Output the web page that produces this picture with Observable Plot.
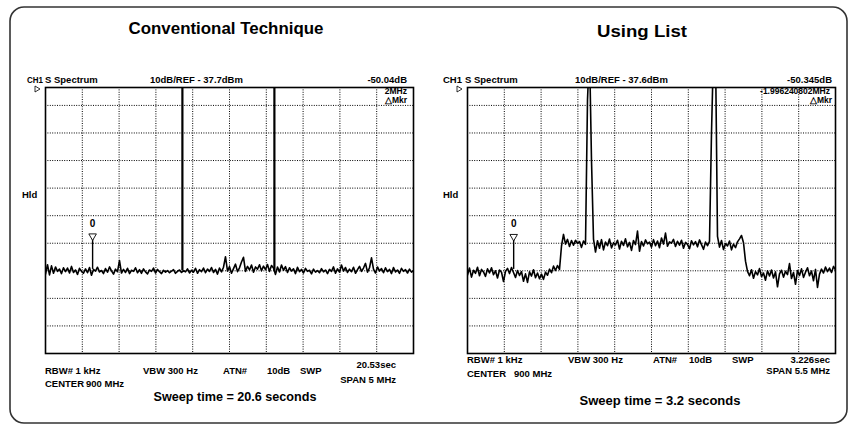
<!DOCTYPE html>
<html><head><meta charset="utf-8">
<script src="https://cdn.jsdelivr.net/npm/d3@7"></script>
<script src="https://cdn.jsdelivr.net/npm/@observablehq/plot@0.6"></script>
<style>
body{margin:0;background:#fff;}
#wrap{position:relative;width:849px;height:424px;overflow:hidden;font-family:"Liberation Sans",Arial,sans-serif;}
#wrap > svg{position:absolute;top:0;}
</style></head><body><div id="wrap"></div>
<script>
// ---- data (levels in dB relative to reference, frequencies in MHz) ----
const leftSpan = [897.5, 902.5];        // CENTER 900 MHz, SPAN 5 MHz
const rightSpan = [897.25, 902.75];     // CENTER 900 MHz, SPAN 5.5 MHz
const gridLevels = [-90, -80, -70, -60, -50, -40, -30, -20, -10];

const leftLevels = [
-71.2,-67.8,-71.5,-68.2,-70.9,-68.6,-70.2,-69.4,-71.0,-68.9,
-70.3,-69.0,-70.8,-68.4,-70.6,-69.7,-71.3,-69.1,-70.2,-70.9,
-69.3,-70.7,-68.8,-71.6,-69.5,-70.1,-68.7,-70.4,-69.9,-71.0,
-69.2,-70.5,-68.6,-70.0,-71.2,-69.4,-70.3,-66.3,-70.8,-69.5,
-70.6,-69.1,-71.0,-69.8,-70.2,-68.9,-70.7,-69.6,-70.9,-69.3,
-70.4,-71.1,-69.7,-70.2,-69.0,-70.8,-69.5,-70.3,-71.0,-69.8,
-70.5,-69.9,-70.7,-70.1,-69.6,-70.9,-70.2,-69.7,-70.6,-70.0,
-70.4,-69.3,-70.8,-69.8,-70.5,-69.1,-70.9,-69.6,-70.3,-69.0,
-70.7,-69.4,-70.2,-68.8,-70.6,-69.5,-71.2,-69.0,-70.4,-68.7,
-64.9,-70.1,-68.5,-70.9,-69.2,-67.6,-70.3,-68.9,-66.8,-65.1,
-70.2,-68.4,-69.7,-67.9,-70.5,-68.6,-69.4,-67.8,-70.0,-68.3,
-69.6,-67.7,-70.2,-68.1,-69.0,-71.3,-68.6,-70.4,-67.9,-69.8,
-68.5,-70.6,-68.9,-70.1,-69.3,-71.0,-68.7,-70.3,-69.5,-70.8,
-69.1,-70.2,-69.8,-71.1,-69.4,-70.5,-69.9,-70.7,-69.2,-70.4,
-69.7,-71.0,-69.5,-70.2,-68.6,-70.9,-69.3,-70.5,-67.9,-70.1,
-68.8,-70.6,-69.4,-70.3,-68.7,-70.9,-69.6,-68.4,-70.2,-69.0,
-67.3,-70.5,-68.9,-65.3,-69.4,-70.8,-68.6,-70.1,-69.2,-70.7,
-68.9,-70.3,-69.5,-71.0,-68.8,-70.4,-69.7,-70.9,-69.1,-70.2,
-69.6,-70.8,-69.4,-70.5,-69.9
];
const leftCarriers = [899.36, 900.61];
const leftCarrierBase = -70;
const leftMarkerFreq = [898.14];
const leftMarkerTop = -57.4;

const rightLevels = [
-71.5,-69.0,-72.3,-69.8,-70.9,-68.7,-71.8,-69.5,-70.4,-72.0,
-69.3,-70.8,-68.9,-71.4,-70.0,-72.6,-69.7,-70.5,-73.9,-70.2,
-69.1,-71.0,-68.8,-70.6,-72.4,-69.9,-71.7,-70.3,-73.8,-71.1,
-74.2,-70.4,-71.9,-69.6,-72.5,-70.8,-72.9,-71.2,-73.1,-70.5,
-71.6,-69.4,-70.7,-68.3,-69.9,
-68.1,-69.5,-61.0,-56.8,
-60.3,-58.6,-61.2,-59.0,-60.7,-58.9,-60.1,-59.4,-61.5,-59.2,-60.4,
-8,10,-30,-58.5,
-63.2,-59.1,-61.8,-58.7,-62.4,-59.6,-60.9,-58.5,-61.7,-59.8,
-60.6,-58.9,-62.1,-59.3,-60.8,-58.4,-61.3,-59.7,-62.6,-59.0,
-60.5,-55.6,-62.9,-59.4,-61.0,-58.8,-60.2,-59.6,-61.4,-58.7,
-60.9,-59.2,-61.6,-58.1,-60.3,-56.3,-61.1,-59.5,-60.0,-58.6,
-61.2,-59.3,-60.7,-58.9,-61.8,-59.7,-60.4,-62.0,-59.1,-60.6,
-59.4,-61.3,-58.8,-60.5,-62.2,-59.6,-60.9,
-59.3,-20,10,10,-57.5,
-61.4,-59.0,-62.3,-60.1,-61.0,-59.2,-62.4,-60.3,-61.6,-59.5,
-58.4,-57.2,-59.8,
-66.5,-70.2,
-71.8,-69.6,-72.7,-70.3,-71.5,-69.2,-72.1,-70.8,-73.4,-70.0,
-71.9,-69.7,-72.6,-70.4,-75.8,-71.1,-69.8,-72.3,-70.2,-71.4,
-67.4,-72.8,-70.6,-74.9,-69.9,-71.7,-69.3,-72.4,-70.5,-68.9,
-71.8,-70.1,-73.6,-69.5,-76.0,-71.2,-69.4,-70.8,-68.6,-70.3,
-69.0,-70.6,-68.4,-69.7
];
const rightCarriers = [];
const rightCarrierBase = -60;
const rightMarkerFreq = [897.94];
const rightMarkerTop = -57.6;

// ---- drawing ----
const FONT = '"Liberation Sans", Arial, sans-serif';
function panel(span, levels, carriers, carrierBase, markerFreq, markerTop, left) {
  const n = levels.length;
  const trace = levels.map((v, i) => ({f: span[0] + i * (span[1] - span[0]) / (n - 1), v}));
  const xt = d3.range(1, 10).map(k => span[0] + k * (span[1] - span[0]) / 10);
  const svg = Plot.plot({
    width: 425, height: 424,
    marginLeft: left ? 45 : 43, marginRight: left ? 12 : 14,
    marginTop: 87, marginBottom: 71,
    style: {fontFamily: FONT, background: "transparent", overflow: "visible"},
    x: {domain: span, axis: null},
    y: {domain: [-100, -3.5], axis: null},
    marks: [
      Plot.gridX(xt, {stroke: "#000", strokeOpacity: 1, strokeWidth: 1, strokeDasharray: "1,1.4"}),
      Plot.gridY(gridLevels, {stroke: "#000", strokeOpacity: 1, strokeWidth: 1, strokeDasharray: "1,1.4"}),
      Plot.line(trace, {x: "f", y: "v", stroke: "#000", strokeWidth: 1.6, clip: true}),
      Plot.ruleX(carriers, {y1: carrierBase, y2: 0, stroke: "#000", strokeWidth: 2.2, clip: true}),
      Plot.ruleX(markerFreq, {y1: -69.5, y2: markerTop, stroke: "#000", strokeWidth: 1.4}),
      Plot.dot(markerFreq, {x: d => d, y: markerTop, symbol: "triangle", rotate: 180, r: 2.8, fill: "#fff", stroke: "#000", strokeWidth: 0.9}),
      Plot.text(markerFreq, {x: d => d, y: markerTop + 4.6, text: () => "0", fontWeight: "bold", fontSize: 10}),
      Plot.frame({stroke: "#000", strokeWidth: 1.6})
    ]
  });
  svg.style.left = (left ? 0 : 424) + "px";
  return svg;
}
const wrap = document.getElementById("wrap");
wrap.appendChild(panel(leftSpan, leftLevels, leftCarriers, leftCarrierBase, leftMarkerFreq, leftMarkerTop, true));
wrap.appendChild(panel(rightSpan, rightLevels, rightCarriers, rightCarrierBase, rightMarkerFreq, rightMarkerTop, false));

// ---- annotation overlay: [text, x, y, anchor, size, width (0 = natural)] ----
const labels = [
  ["Conventional Technique", 226, 34, "middle", 17, 195],
  ["Using List", 642, 37, "middle", 17, 90],
  ["CH1", 27, 83, "start", 9, 16], ["S Spectrum", 45, 83, "start", 9.5, 0],
  ["10dB/REF - 37.7dBm", 150, 83, "start", 9.5, 0], ["-50.04dB", 407, 83, "end", 9.5, 0],
  ["2MHz", 407, 93.5, "end", 8.5, 0], ["\u25B3Mkr", 407, 103, "end", 8.5, 0],
  ["Hld", 22, 198, "start", 9.5, 0],
  ["RBW# 1 kHz", 45, 374, "start", 9.5, 0], ["VBW 300 Hz", 143, 374, "start", 9.5, 0],
  ["ATN#", 223, 374, "start", 9.5, 0], ["10dB", 267, 374, "start", 9.5, 0], ["SWP", 300, 374, "start", 9.5, 0],
  ["20.53sec", 396, 368, "end", 9.5, 0], ["CENTER", 45, 387, "start", 9.5, 0], ["900 MHz", 86, 387, "start", 9.5, 0],
  ["SPAN 5 MHz", 396, 383, "end", 9.5, 0],
  ["Sweep time = 20.6 seconds", 235, 401, "middle", 13.5, 163],
  ["CH1", 443, 83, "start", 9.5, 0], ["S Spectrum", 465, 83, "start", 9.5, 0],
  ["10dB/REF - 37.6dBm", 575, 83, "start", 9.5, 0], ["-50.345dB", 832, 83, "end", 9.5, 0],
  ["-1.996240802MHz", 830, 93.5, "end", 8.5, 0], ["\u25B3Mkr", 832, 103, "end", 8.5, 0],
  ["Hld", 443, 198, "start", 9.5, 0],
  ["RBW# 1 kHz", 467, 363, "start", 9.5, 0], ["VBW 300 Hz", 568, 363, "start", 9.5, 0],
  ["ATN#", 653, 363, "start", 9.5, 0], ["10dB", 689, 363, "start", 9.5, 0], ["SWP", 732, 363, "start", 9.5, 0],
  ["3.226sec", 830, 363, "end", 9.5, 0], ["CENTER", 467, 377, "start", 9.5, 0], ["900 MHz", 514, 377, "start", 9.5, 0],
  ["SPAN 5.5 MHz", 830, 374, "end", 9.5, 0],
  ["Sweep time = 3.2 seconds", 660, 405, "middle", 13.5, 161]
];
const ns = "http://www.w3.org/2000/svg";
const ov = document.createElementNS(ns, "svg");
ov.setAttribute("width", 849); ov.setAttribute("height", 424);
ov.style.left = "0px";
const border = document.createElementNS(ns, "rect");
border.setAttribute("x", 10); border.setAttribute("y", 7);
border.setAttribute("width", 837); border.setAttribute("height", 416);
border.setAttribute("rx", 14);
border.setAttribute("fill", "none"); border.setAttribute("stroke", "#333"); border.setAttribute("stroke-width", 1.6);
ov.appendChild(border);
for (const [t, x, y, a, s, w] of labels) {
  const el = document.createElementNS(ns, "text");
  el.setAttribute("x", x); el.setAttribute("y", y);
  el.setAttribute("text-anchor", a);
  el.setAttribute("font-size", s);
  el.setAttribute("font-weight", "bold");
  el.setAttribute("font-family", FONT);
  el.setAttribute("fill", "#000");
  if (w) {
    el.setAttribute("textLength", w);
    el.setAttribute("lengthAdjust", "spacingAndGlyphs");
  }
  el.textContent = t;
  ov.appendChild(el);
}
for (const x of [35, 457]) {
  const tri = document.createElementNS(ns, "path");
  tri.setAttribute("d", `M${x},86 L${x + 5},89 L${x},92 Z`);
  tri.setAttribute("fill", "#fff"); tri.setAttribute("stroke", "#000"); tri.setAttribute("stroke-width", 0.8);
  ov.appendChild(tri);
}
wrap.appendChild(ov);
</script></body></html>
